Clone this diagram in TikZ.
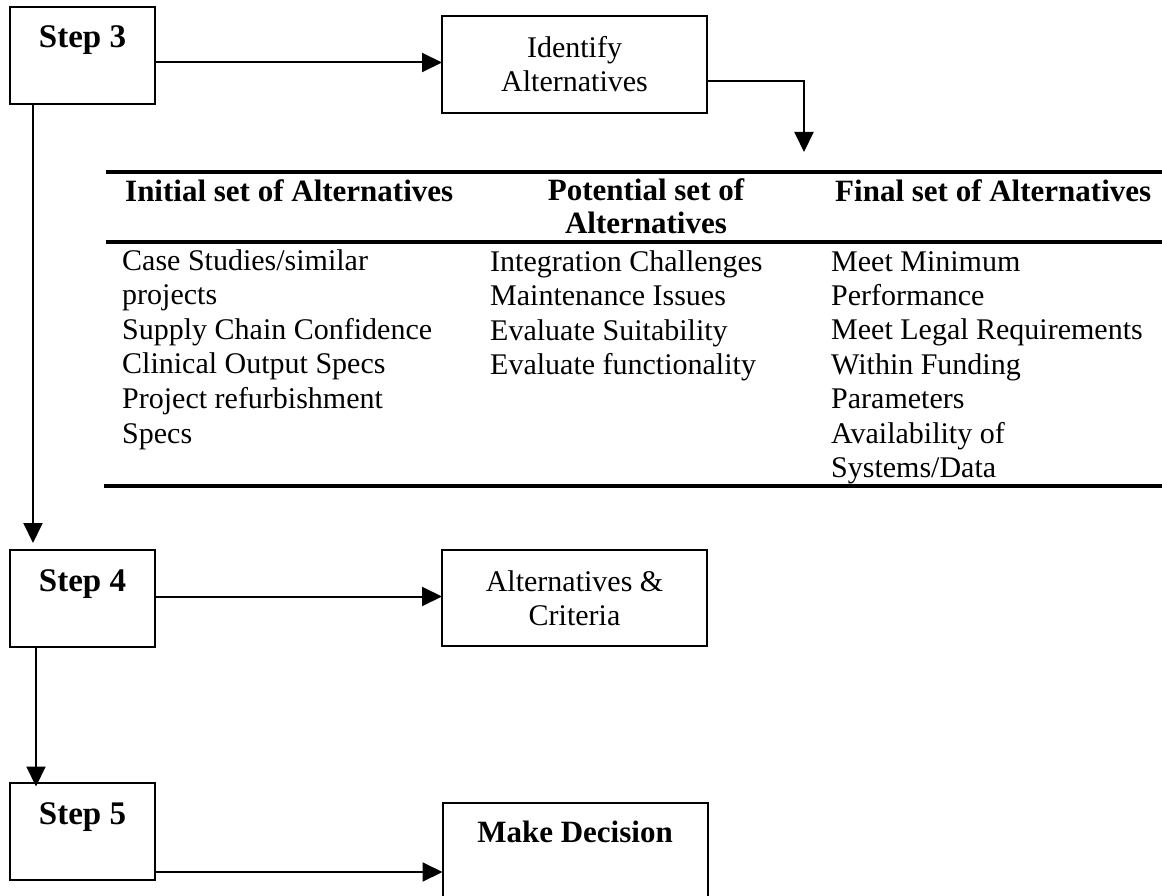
\documentclass[tikz,border=0pt]{standalone}
\usepackage{fontspec}
\setmainfont{Liberation Serif}
\usetikzlibrary{arrows.meta}
\begin{document}
\begin{tikzpicture}[x=1pt,y=-1pt,
  box/.style={draw, line width=2pt, inner sep=0pt, outer sep=0pt, minimum height=97pt},
  stepbox/.style={box, minimum width=145pt},
  actbox/.style={box, minimum width=265pt, align=center, font=\fontsize{30}{34}\selectfont},
  steplbl/.style={inner sep=0pt, font=\fontsize{33}{34}\selectfont\bfseries},
  declbl/.style={inner sep=0pt, font=\fontsize{31}{34}\selectfont\bfseries},
  arr/.style={line width=2pt, -{Triangle[length=20pt,width=19pt]}},
  rule/.style={line width=3.5pt},
  cell/.style={inner sep=0pt, font=\fontsize{30}{34.6}\selectfont},
  hdr/.style={inner sep=0pt, font=\fontsize{31}{34}\selectfont\bfseries}]
\clip (0,0) rectangle (1162,896);

% step boxes on the left
\node[stepbox] (s3) at (82.5,55.5) {};
\node[stepbox] (s4) at (82.5,598.5) {};
\node[stepbox] (s5) at (82.5,831) {};
\node[steplbl, anchor=base] (s3t) at (82.5,48) {Step 3};
\node[steplbl, anchor=base] (s4t) at (82.5,591) {Step 4};
\node[steplbl, anchor=base] (s5t) at (82.5,824) {Step 5};

% activity boxes
\node[actbox] (id) at (574.5,64.5) {Identify\\Alternatives};
\node[actbox, minimum height=96pt] (ac) at (574.5,598) {Alternatives \&\\Criteria};
\node[actbox] (md) at (575,851.5) {};
\node[declbl, anchor=base] (mdt) at (575,842) {Make Decision};

% connectors
\coordinate (drop) at (804,152);
\draw[arr] ([yshift=-7pt]s3.east) -- ([yshift=-7pt]s3.east -| id.west);
\draw[arr] ([yshift=-16.5pt]id.east) -| (drop);
\draw[arr] ([xshift=-49.5pt]s3.south) -- ([xshift=-49.5pt,yshift=7pt]s4.north);
\draw[arr] ([yshift=2pt]s4.east) -- ([yshift=2pt]s4.east -| ac.west);
\draw[arr] ([xshift=-46.5pt]s4.south) -- ([xshift=-46.5pt,yshift=-4pt]s5.north);
\draw[arr] ([yshift=-41pt]s5.east) -- ([yshift=-41pt]s5.east -| md.west);

% table of alternatives
\draw[rule] (106,172) -- (1162,172);
\draw[rule] (106,242) -- (1162,242);
\draw[rule] (104,486) -- (1162,486);

\node[hdr, anchor=base west] (h1) at (125,202) {Initial set of Alternatives};
\node[hdr, anchor=base] (h2a) at (646,200.5) {Potential set of};
\node[hdr, anchor=base] (h2b) at (646,234) {Alternatives};
\node[hdr, anchor=base west] (h3) at (835,202) {Final set of Alternatives};

\foreach \t [count=\i] in {{Case Studies/similar}, {projects}, {Supply Chain Confidence},
    {Clinical Output Specs}, {Project refurbishment}, {Specs}}
  \node[cell, anchor=base west] (a\i) at (122,{270+34.6*(\i-1)}) {\t};
\foreach \t [count=\i] in {{Integration Challenges}, {Maintenance Issues},
    {Evaluate Suitability}, {Evaluate functionality}}
  \node[cell, anchor=base west] (b\i) at (490,{271+34.6*(\i-1)}) {\t};
\foreach \t [count=\i] in {{Meet Minimum}, {Performance}, {Meet Legal Requirements},
    {Within Funding}, {Parameters}, {Availability of}, {Systems/Data}}
  \node[cell, anchor=base west] (c\i) at (831,{271+34.4*(\i-1)}) {\t};
\end{tikzpicture}
\end{document}
